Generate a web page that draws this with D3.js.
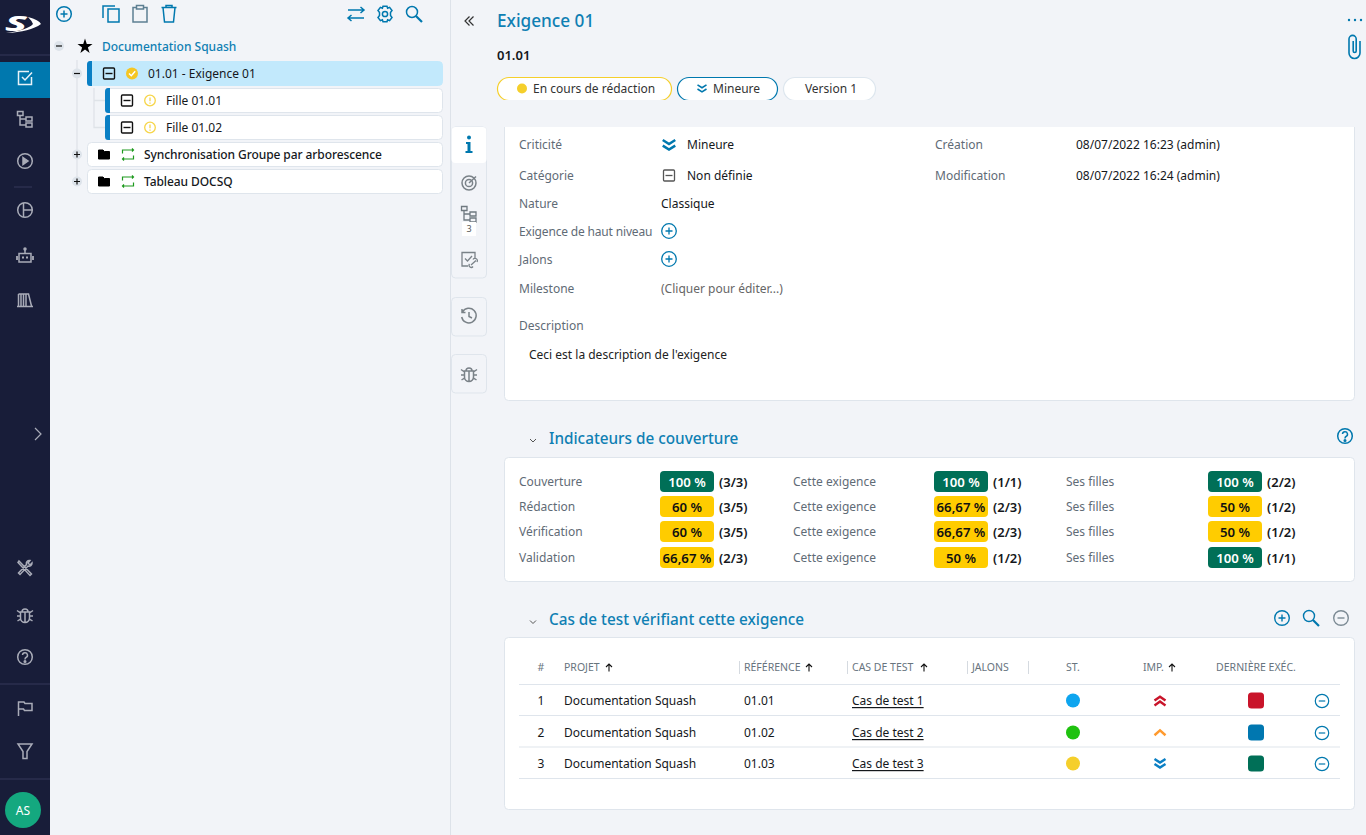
<!DOCTYPE html>
<html>
<head>
<meta charset="utf-8">
<title>Exigence 01</title>
<script src="https://d3js.org/d3.v7.min.js"></script>
<style>
  html, body { margin: 0; padding: 0; background: #f2f4f8; overflow: hidden; }
  svg { display: block; font-family: "Noto Sans", sans-serif; font-size: 12px; }
  text { dominant-baseline: central; }
</style>
</head>
<body>
<div id="chart"></div>
<script>
// values
const treeRows = ["01.01 - Exigence 01", "Fille 01.01", "Fille 01.02", "Synchronisation Groupe par arborescence", "Tableau DOCSQ"];
const attrLabels = ["Criticité", "Catégorie", "Nature", "Exigence de haut niveau", "Jalons", "Milestone", "Description"];
const pills = ["En cours de rédaction", "Mineure", "Version 1"];
const coverageKinds = ["Couverture", "Rédaction", "Vérification", "Validation"];
const coverageColumns = ["total", "self", "children"];
const coverageTotal = [100, 60, 60, 66.67];
const coverageSelf = [100, 66.67, 66.67, 50];
const coverageChildren = [100, 50, 50, 100];
const countsTotal = ["(3/3)", "(3/5)", "(3/5)", "(2/3)"];
const countsSelf = ["(1/1)", "(2/3)", "(2/3)", "(1/2)"];
const countsChildren = ["(2/2)", "(1/2)", "(1/2)", "(1/1)"];
const testNumbers = [1, 2, 3];
const testProjects = ["Documentation Squash", "Documentation Squash", "Documentation Squash"];
const testRefs = ["01.01", "01.02", "01.03"];
const testNames = ["Cas de test 1", "Cas de test 2", "Cas de test 3"];
const testStatus = ["ready", "approved", "progress"];
const testImportance = ["high", "medium", "low"];
const testLastRun = ["failure", "running", "success"];
const headerLabels = ["#", "PROJET", "RÉFÉRENCE", "CAS DE TEST", "JALONS", "ST.", "IMP.", "DERNIÈRE EXÉC."];

const width = 1366, height = 835;
const blue = "#0078ae", titleBlue = "#0f7fb3", grey = "#5f6b76", ink = "#15181c", navIcon = "#a9acb8", line = "#dfe5ec";

const svg = d3.select("#chart").append("svg").attr("width", width).attr("height", height);
svg.append("rect").attr("width", width).attr("height", height).attr("fill", "#f2f4f8");

function label(parent, x, y, str, opts) {
    opts = opts || {};
    return parent.append("text").attr("x", x).attr("y", y).text(str)
        .attr("fill", opts.fill || ink)
        .attr("font-size", opts.size || 12)
        .attr("font-weight", opts.weight || 400)
        .attr("text-anchor", opts.anchor || "start");
}

function box(parent, x0, y0, x1, y1, r, fill, stroke) {
    return parent.append("rect").attr("x", x0).attr("y", y0)
        .attr("width", x1 - x0).attr("height", y1 - y0).attr("rx", r)
        .attr("fill", fill).attr("stroke", stroke || "none");
}

// small icons, all centred on 0,0
const icons = {
    plusCircle: g => { g.append("circle").attr("r", 7.3); g.append("path").attr("d", "M-3.5 0H3.5M0 -3.5V3.5"); },
    minusCircle: g => { g.append("circle").attr("r", 7.3); g.append("path").attr("d", "M-3.5 0H3.5"); },
    copy: g => g.append("path").attr("d", "M-3 -5H8V8H-3ZM-8 4V-8H4"),
    paste: g => g.append("path").attr("d", "M-3.5 -6.5H-7V8H7V-6.5H3.5M-3.5 -8.5H3.5V-5H-3.5Z"),
    trash: g => g.append("path").attr("d", "M-7.5 -6.5H7.5M-6 -6.5L-4.5 8H4.5L6 -6.5M-3 -6.5V-8.5H3V-6.5"),
    swap: g => g.append("path").attr("d", "M-8 -4H8M4.5 -7L8 -4L4.5 -1M8 4H-8M-4.5 1L-8 4L-4.5 7"),
    gear: g => {
        g.append("circle").attr("r", 2.6);
        g.append("path").attr("d", "M-2 -7.8H2L2.6 -5.7L4.6 -6.6L7 -3.4L5.5 -1.6V1.6L7 3.4L4.6 6.6L2.6 5.7L2 7.8H-2L-2.6 5.7L-4.6 6.6L-7 3.4L-5.5 1.6V-1.6L-7 -3.4L-4.6 -6.6L-2.6 -5.7Z");
    },
    search: g => { g.append("circle").attr("cx", -2).attr("cy", -2).attr("r", 5.5); g.append("path").attr("d", "M2 2L8 8").attr("stroke-width", 2.2); },
    check: g => g.append("path").attr("d", "M6.5 -1V6.5H-6.5V-6.5H4M-3 -1L0 2L7 -5.5"),
    tree: g => g.append("path").attr("d", "M-7.5 -7.5H-2V-3.5H-7.5ZM1 -2H7V2H1ZM1 4H7V8H1ZM-5 -3.5V6H1M-5 0H1"),
    play: g => { g.append("circle").attr("r", 7.3); g.append("path").attr("d", "M-2 -3.5L3 0L-2 3.5Z").attr("fill", "currentColor"); },
    pie: g => { g.append("circle").attr("r", 7.3); g.append("path").attr("d", "M-1.5 -7.2V7.2M-1.5 0H7.3"); },
    robot: g => {
        g.append("path").attr("d", "M-6 -2.5H6V6H-6ZM0 -2.5V-6");
        g.append("circle").attr("cy", -7).attr("r", 1).attr("fill", "currentColor");
        g.append("path").attr("d", "M-3 1.5H-1M1 1.5H3M-8 0V4M8 0V4").attr("stroke-width", 1.8);
    },
    books: g => g.append("path").attr("d", "M-6.5 -6V6M-4 -6V6M-1.5 -6V6M1 -6V6M-6.5 -6H1M1 -6H3.5L6.5 6M-8 6.5H8"),
    tools: g => g.append("path").attr("d", "M-6 -7L6.5 6L5 7.5L-7 -5.5ZM7 -5A3 3 0 0 1 3 -2L-5 6.5L-6.5 5L1.5 -3.5A3 3 0 0 1 5 -7.5L3 -5L5 -3Z"),
    bug: g => {
        g.append("path").attr("d", "M-4.5 -3H4.5V3A4.5 4.5 0 0 1 -4.5 3ZM-3 -3A3 3 0 0 1 3 -3M0 -3V7M-8 -4.5L-4.5 -2M8 -4.5L4.5 -2M-8 1H-4.5M8 1H4.5M-7.5 6L-4.5 4M7.5 6L4.5 4");
    },
    help: g => {
        g.append("circle").attr("r", 7.3);
        g.append("path").attr("d", "M-2.5 -2A2.5 2.5 0 1 1 1 0.5Q0 1 0 2.6");
        g.append("circle").attr("cy", 4.5).attr("r", 0.8).attr("fill", "currentColor");
    },
    flag: g => g.append("path").attr("d", "M-6.5 8V-6H-1L0 -4.5H7V2.5H-0.5L-1.5 1H-6.5"),
    funnel: g => g.append("path").attr("d", "M-7 -7H7L2 0.5V7.5H-2V0.5Z"),
    target: g => {
        g.append("circle").attr("r", 7);
        g.append("circle").attr("r", 3.6);
        g.append("path").attr("d", "M0 0L7 -6.5");
    },
    linkCheck: g => g.append("path").attr("d", "M-1 7H-7V-6.5H6V-1M-4 -0.5L-1.5 2L3 -3M2 6L7 1.5M0.5 5A2 2 0 0 0 4 7.5M4 0.5A2 2 0 0 1 8 3"),
    history: g => {
        g.append("path").attr("d", "M-6.5 -4A7.3 7.3 0 1 1 -7.3 1M-7 -7V-3.5H-3.5M0 -4V0.5L3 2");
    },
    infoMark: g => {
        g.append("circle").attr("cy", -7.5).attr("r", 2).attr("fill", "currentColor").attr("stroke", "none");
        g.append("path").attr("d", "M-3 -3H1.5V6H3.5V8H-3.5V6H-1.5V-1H-3Z").attr("fill", "currentColor").attr("stroke", "none");
    },
    minusBox: g => { g.append("rect").attr("x", -5.5).attr("y", -5.5).attr("width", 11).attr("height", 11).attr("rx", 1); g.append("path").attr("d", "M-3.5 0H3.5"); },
    loop: g => g.append("path").attr("d", "M-5.5 -1V-4.5H5.5M4 -6L5.5 -4.5L4 -3M5.5 1V4.5H-5.5M-4 3L-5.5 4.5L-4 6"),
    folder: g => g.append("path").attr("d", "M-5.5 -4.5H-1L0.5 -3H5.5V4.5H-5.5Z").attr("fill", "currentColor"),
    doubleDown: g => g.append("path").attr("d", "M-5 -4L0 -0.8L5 -4M-5 0.5L0 3.7L5 0.5"),
    doubleUp: g => g.append("path").attr("d", "M-5 0L0 -3.5L5 0M-5 4.5L0 1L5 4.5"),
    singleUp: g => g.append("path").attr("d", "M-5 2.5L0 -2L5 2.5"),
    chevronDown: g => g.append("path").attr("d", "M-3 -1.5L0 1.5L3 -1.5"),
    chevronRight: g => g.append("path").attr("d", "M-3 -6L3 0L-3 6"),
    doubleLeft: g => g.append("path").attr("d", "M0.5 -4.5L-4 0L0.5 4.5M4.5 -4.5L0 0L4.5 4.5"),
    arrowUp: g => g.append("path").attr("d", "M0 4V-3.5M-3 -0.5L0 -3.5L3 -0.5")
};

function icon(parent, name, x, y, color, sw) {
    const g = parent.append("g").attr("transform", `translate(${x},${y})`)
        .style("color", color).attr("fill", "none").attr("stroke", color)
        .attr("stroke-width", sw || 1.5);
    icons[name](g);
    return g;
}

// ---- left navigation bar
const nav = svg.append("g");
nav.append("rect").attr("width", 50).attr("height", height).attr("fill", "#181d39");
nav.append("rect").attr("y", 62).attr("width", 50).attr("height", 36).attr("fill", blue);
const navRules = [[0, 50, 55], [14, 32, 187], [0, 50, 684], [0, 50, 779]];
nav.selectAll("line").data(navRules).join("line")
    .attr("x1", d => d[0]).attr("x2", d => d[1]).attr("y1", d => d[2]).attr("y2", d => d[2])
    .attr("stroke", "#34395a");
// logo
label(nav, 5, 22, "S", {fill: "#fff", size: 22, weight: 800}).attr("font-style", "italic").attr("textLength", 22).attr("lengthAdjust", "spacingAndGlyphs");
nav.append("path").attr("d", "M28 17Q39 20 41 24Q30 32 6 33Q28 30 33 24Q32 21 28 17Z").attr("fill", "#fff");
const navIcons = [["check", 78], ["tree", 119], ["play", 161], ["pie", 210], ["robot", 256], ["books", 300],
    ["tools", 568], ["bug", 615], ["help", 657], ["flag", 708], ["funnel", 751]];
navIcons.forEach(d => icon(nav, d[0], 25, d[1], d[0] === "check" ? "#e8f2f8" : navIcon));
icon(nav, "chevronRight", 38, 434, navIcon, 1.2);
nav.append("circle").attr("cx", 23).attr("cy", 810).attr("r", 18).attr("fill", "#14a87f");
label(nav, 23, 810, "AS", {fill: "#fff", anchor: "middle"});

// ---- tree panel
const tree = svg.append("g");
const treeTools = [["plusCircle", 64, blue], ["copy", 111, blue], ["paste", 140, "#5d7f92"], ["trash", 169, blue],
    ["swap", 356, blue], ["gear", 385, blue], ["search", 414, blue]];
treeTools.forEach(d => icon(tree, d[0], d[1], 14, d[2]));
tree.append("path").attr("d", "M77 60V181M94 88V127.5H105M94 100.5H105").attr("fill", "none").attr("stroke", "#dfe3e8").attr("stroke-width", 1.3);

tree.append("circle").attr("cx", 59).attr("cy", 46).attr("r", 5).attr("fill", "#dde3ea");
tree.append("path").attr("d", "M56 46H62").attr("stroke", "#111").attr("stroke-width", 1.2);
tree.append("path").attr("d", d3.symbol(d3.symbolStar, 70)()).attr("transform", "translate(85,46.5)").attr("fill", "#000");
label(tree, 102, 46, "Documentation Squash", {fill: titleBlue, weight: 500});

const rowY = d3.scalePoint().domain(treeRows).range([73.5, 181.5]);
const rowLeft = d3.scaleOrdinal().domain(treeRows).range([87, 105, 105, 87, 87]);
treeRows.forEach((name, i) => {
    const y = rowY(name), x = rowLeft(name);
    const selected = i === 0, child = i === 1 || i === 2, folder = i > 2;
    if (i !== 1 && i !== 2) {
        tree.append("circle").attr("cx", 77).attr("cy", y).attr("r", 5).attr("fill", "#dde3ea");
        tree.append("path").attr("d", selected ? `M74 ${y}H80` : `M74 ${y}H80M77 ${y - 3}V${y + 3}`).attr("stroke", "#111").attr("stroke-width", 1.2);
    }
    box(tree, x + .5, y - 12, 442.5, y + 12, 4, selected ? "#c2e9fc" : "#fff", selected ? "#c2e9fc" : line);
    if (!folder) tree.append("path").attr("d", `M${x + 5} ${y - 12.5}H${x + 3}Q${x} ${y - 12.5} ${x} ${y - 9}V${y + 9}Q${x} ${y + 12.5} ${x + 3} ${y + 12.5}H${x + 5}Z`).attr("fill", "#0a7fc4");
    if (selected) {
        icon(tree, "minusBox", 109, y, "#111", 1.4);
        tree.append("circle").attr("cx", 132).attr("cy", y).attr("r", 6).attr("fill", "#f5c623");
        tree.append("path").attr("d", `M129 ${y}L131.3 ${y + 2.3}L135.2 ${y - 2.3}`).attr("fill", "none").attr("stroke", "#fff").attr("stroke-width", 1.4);
        label(tree, 148, y, name);
    } else if (child) {
        icon(tree, "minusBox", 127, y, "#111", 1.4);
        tree.append("circle").attr("cx", 150).attr("cy", y).attr("r", 5.3).attr("fill", "none").attr("stroke", "#f6d548").attr("stroke-width", 1.3);
        tree.append("path").attr("d", `M150 ${y - 3}V${y + .8}M150 ${y + 2}V${y + 3.2}`).attr("stroke", "#f6d548").attr("stroke-width", 1.3);
        label(tree, 166, y, name);
    } else {
        icon(tree, "folder", 104, y, "#000", 1);
        icon(tree, "loop", 128, y, "#1e9a1e", 1.2);
        label(tree, 144, y, name, {weight: 500}).attr("letter-spacing", "-0.08");
    }
});

// ---- detail header
const head = svg.append("g");
head.append("line").attr("x1", 450.5).attr("x2", 450.5).attr("y1", 0).attr("y2", height).attr("stroke", "#dde2e9");
icon(head, "doubleLeft", 469, 21, "#333", 1.2);
label(head, 497, 20, "Exigence 01", {fill: titleBlue, size: 17.2, weight: 500});
label(head, 497, 55, "01.01", {size: 13, weight: 600});
head.selectAll("circle.more").data([1349, 1355, 1361]).join("circle").attr("class", "more")
    .attr("cx", d => d).attr("cy", 20).attr("r", 1.2).attr("fill", blue);
head.append("path").attr("d", "M1360 41V53A5.5 5.5 0 0 1 1349 53V39A3.6 3.6 0 0 1 1356.2 39V51A1.5 1.5 0 0 1 1353.2 51V41")
    .attr("fill", "none").attr("stroke", blue).attr("stroke-width", 1.6);

const pillLeft = d3.scaleOrdinal().domain(pills).range([497.5, 677.5, 783.5]);
const pillRight = d3.scaleOrdinal().domain(pills).range([671.5, 777.5, 875.5]);
const pillStroke = d3.scaleOrdinal().domain(pills).range(["#f5cf2b", blue, "#dde6ee"]);
pills.forEach(p => box(head, pillLeft(p), 77.5, pillRight(p), 100.5, 11.5, "#fff", pillStroke(p)).attr("stroke-width", 1.2));
head.append("circle").attr("cx", 522).attr("cy", 88.5).attr("r", 5).attr("fill", "#f5cf2b");
label(head, 533, 88.5, pills[0], {fill: "#333"});
icon(head, "doubleDown", 702, 88.5, blue, 1.8).attr("transform", "translate(702,88.5) scale(.9)");
label(head, 713, 88.5, pills[1], {fill: "#333"});
label(head, 831, 88.5, pills[2], {fill: "#333", anchor: "middle"});

// ---- side tabs
const tabs = svg.append("g");
box(tabs, 451.5, 127, 486.5, 278, 4, "#f2f4f8", line);
box(tabs, 451.5, 127, 486.5, 163, 4, "#fff", "none");
box(tabs, 451.5, 297.5, 486.5, 336, 4, "#f2f4f8", line);
box(tabs, 451.5, 354.5, 486.5, 393, 4, "#f2f4f8", line);
icon(tabs, "infoMark", 469, 145, blue);
icon(tabs, "target", 469, 183, "#7a8288", 1.5);
icon(tabs, "tree", 469, 214, "#6f7980", 1.3);
tabs.append("rect").attr("x", 462).attr("y", 222).attr("width", 14).attr("height", 14).attr("fill", "#fff");
label(tabs, 469, 228, "3", {size: 9, fill: "#555", anchor: "middle"});
icon(tabs, "linkCheck", 469, 259, "#7a8288", 1.3);
icon(tabs, "history", 469, 316, "#7a8288", 1.5);
icon(tabs, "bug", 469, 374, "#7a8288", 1.5);

// ---- information panel
const info = svg.append("g");
box(info, 504.5, 120, 1354.5, 400.5, 4, "#fff", line);
info.append("rect").attr("x", 490).attr("y", 100).attr("width", 876).attr("height", 27).attr("fill", "#f2f4f8");
const attrY = d3.scaleOrdinal().domain(attrLabels).range([144.5, 175.5, 203.5, 231.5, 259.5, 288.5, 325.5]);
attrLabels.forEach(a => label(info, 519, attrY(a), a, {fill: grey})
    .attr("letter-spacing", a === "Exigence de haut niveau" ? "-0.17" : null));
icon(info, "doubleDown", 669, 145, blue, 2).attr("transform", "translate(669,145) scale(1.25)");
label(info, 687, attrY("Criticité"), "Mineure");
icon(info, "minusBox", 669, 175.5, "#555", 1.3);
label(info, 687, attrY("Catégorie"), "Non définie");
label(info, 661, attrY("Nature"), "Classique");
icon(info, "plusCircle", 669, 231, blue, 1.3);
icon(info, "plusCircle", 669, 259, blue, 1.3);
label(info, 661, attrY("Milestone"), "(Cliquer pour éditer...)", {fill: "#666"});
label(info, 529, 354.5, "Ceci est la description de l'exigence", {fill: "#222"});
label(info, 935, 144.5, "Création", {fill: grey});
label(info, 1076, 144.5, "08/07/2022 16:23 (admin)");
label(info, 935, 175.5, "Modification", {fill: grey});
label(info, 1076, 175.5, "08/07/2022 16:24 (admin)");

// ---- coverage panel
const cov = svg.append("g");
icon(cov, "chevronDown", 533, 440.5, "#555", 1);
label(cov, 549, 438, "Indicateurs de couverture", {fill: titleBlue, size: 15.3, weight: 500});
icon(cov, "help", 1345, 436, blue, 1.5);
box(cov, 504.5, 457.5, 1354.5, 581.5, 4, "#fff", line);

const covY = d3.scaleOrdinal().domain(coverageKinds).range([481.5, 506.5, 531.5, 557.5]);
const covLabelX = d3.scaleOrdinal().domain(coverageColumns).range([519, 793, 1066]);
const covBadgeX = d3.scaleOrdinal().domain(coverageColumns).range([660, 934, 1208]);
const badgeW = 54, badgeH = 21;
const covColor = d3.scaleThreshold().domain([100]).range(["#ffcc00", "#006f57"]);
const covText = d3.scaleThreshold().domain([100]).range(["#111", "#fff"]);
const pct = v => String(v).replace(".", ",") + " %";
const covData = {total: [coverageTotal, countsTotal], self: [coverageSelf, countsSelf], children: [coverageChildren, countsChildren]};

coverageColumns.forEach(col => {
    const [vals, counts] = covData[col];
    const bx = covBadgeX(col);
    coverageKinds.forEach((kind, i) => {
        const y = covY(kind);
        const text = col === "total" ? kind : (col === "self" ? "Cette exigence" : "Ses filles");
        label(cov, covLabelX(col), y, text, {fill: grey});
        box(cov, bx, y - badgeH / 2, bx + badgeW, y + badgeH / 2, 4, covColor(vals[i]));
        label(cov, bx + badgeW / 2, y, pct(vals[i]), {fill: covText(vals[i]), anchor: "middle", weight: 600, size: 13.2});
        label(cov, bx + badgeW + 5, y, counts[i], {weight: 600, size: 13});
    });
});

// ---- test case panel
const cases = svg.append("g");
icon(cases, "chevronDown", 533, 622, "#555", 1);
label(cases, 549, 619, "Cas de test vérifiant cette exigence", {fill: titleBlue, size: 15.3, weight: 500});
icon(cases, "plusCircle", 1282, 618, blue, 1.4);
icon(cases, "search", 1311, 618, blue, 1.4);
icon(cases, "minusCircle", 1341, 618, "#7c8a94", 1.4);
box(cases, 504.5, 637.5, 1354.5, 809.5, 4, "#fff", line);

const headerX = d3.scaleOrdinal().domain(headerLabels).range([541, 564, 744, 852, 972, 1073, 1143, 1256]);
const centred = ["#", "ST.", "DERNIÈRE EXÉC."];
headerLabels.forEach(h => label(cases, headerX(h), 667, h, {size: 10.5, fill: "#68747e", anchor: centred.includes(h) ? "middle" : "start"}));
const sortArrows = [609, 809, 924, 1172];
sortArrows.forEach(x => icon(cases, "arrowUp", x, 667.5, "#111", 1.1));
const headerTicks = [739, 847, 967, 1028];
cases.selectAll("line.sep").data(headerTicks).join("line").attr("class", "sep")
    .attr("x1", d => d + .5).attr("x2", d => d + .5).attr("y1", 661).attr("y2", 674).attr("stroke", "#d5dae0");
const ruleY = [684.5, 715.5, 747, 778.5];
cases.selectAll("line.rule").data(ruleY).join("line").attr("class", "rule")
    .attr("x1", 519).attr("x2", 1340).attr("y1", d => d).attr("y2", d => d).attr("stroke", "#dfe5ec").attr("stroke-width", 1.2);

const caseY = d3.scaleOrdinal().domain(testNumbers).range([700.5, 732.5, 763.5]);
const statusColor = d3.scaleOrdinal().domain(["ready", "approved", "progress"]).range(["#0ea5ef", "#1fc20f", "#f5cf2b"]);
const runColor = d3.scaleOrdinal().domain(["failure", "running", "success"]).range(["#c9142a", "#0077b0", "#006f57"]);
const impIcon = {high: ["doubleUp", "#c9142a"], medium: ["singleUp", "#ff9a2e"], low: ["doubleDown", "#0a7fc4"]};

testNumbers.forEach((n, i) => {
    const y = caseY(n);
    label(cases, 541, y, n, {anchor: "middle"});
    label(cases, 564, y, testProjects[i]);
    label(cases, 744, y, testRefs[i]);
    label(cases, 852, y, testNames[i]).attr("text-decoration", "underline");
    cases.append("circle").attr("cx", 1073).attr("cy", y).attr("r", 7).attr("fill", statusColor(testStatus[i]));
    const imp = impIcon[testImportance[i]];
    icon(cases, imp[0], 1160, y, imp[1], 2.2).attr("transform", `translate(1160,${y}) scale(1.1)`);
    box(cases, 1248, y - 8, 1264, y + 8, 3.5, runColor(testLastRun[i]));
    icon(cases, "minusCircle", 1322, y + .5, blue, 1.3).attr("transform", `translate(1322,${y + .5}) scale(.92)`);
});
</script>
</body>
</html>
